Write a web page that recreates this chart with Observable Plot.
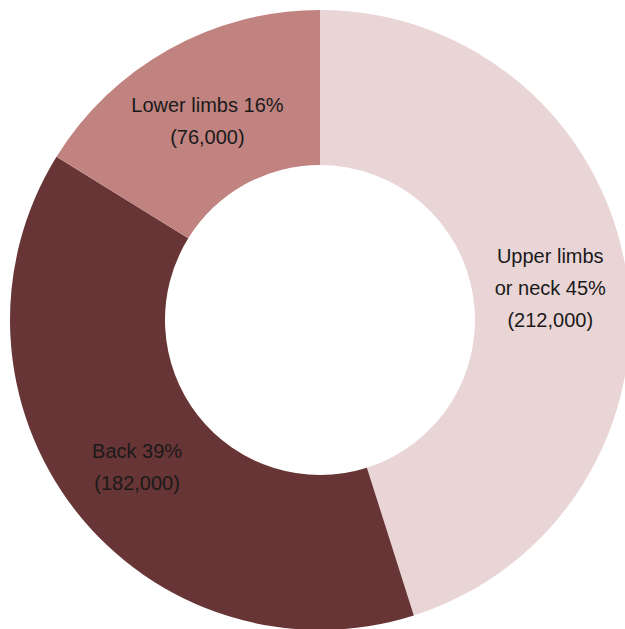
<!DOCTYPE html>
<html><head><meta charset="utf-8">
<script src="https://cdn.jsdelivr.net/npm/d3@7"></script>
<script src="https://cdn.jsdelivr.net/npm/@observablehq/plot@0.6"></script>
<style>body{margin:0;background:#fff}</style>
</head><body><div id="chart"></div>
<script>
const categories = ["Upper limbs or neck", "Back", "Lower limbs"];
const labelLines = ["Upper limbs\nor neck", "Back", "Lower limbs"];
const percents = [45, 39, 16];
const values = [212000, 182000, 76000];
const colors = ["#e9d5d6", "#683536", "#c08380"];

const W = 625, H = 629, cx = 320, cy = 320, rOuter = 310, rInner = 155;
const data = categories.map((c, i) => ({category: c, line: labelLines[i], pct: percents[i], value: values[i], color: colors[i]}));
const arcs = d3.pie().sort(null).value(d => d.value)(data);
const arcGen = d3.arc().innerRadius(rInner).outerRadius(rOuter);
const rMid = (rInner + rOuter) / 2;
const labelArc = d3.arc().innerRadius(rMid).outerRadius(rMid);
const fmt = d3.format(",");
const table = arcs.map(a => {
  const [x, y] = labelArc.centroid(a);
  return {...a.data, x, y, text: `${a.data.line} ${a.data.pct}%\n(${fmt(a.data.value)})`};
});

function donut(index, scales) {
  const sx = scales && scales.x ? scales.x : (v => v + cx);
  const sy = scales && scales.y ? scales.y : (v => v + cy);
  const g = d3.create("svg:g").attr("transform", `translate(${sx(0)},${sy(0)})`);
  g.selectAll("path").data(arcs).join("path")
    .attr("d", arcGen)
    .attr("fill", d => d.data.color);
  return g.node();
}

const chart = Plot.plot({
  width: W, height: H,
  margin: 0,
  style: {fontFamily: "'Liberation Sans', Arial, sans-serif", background: "#fff"},
  x: {domain: [-cx, W - cx], range: [0, W], axis: null},
  y: {domain: [-cy, H - cy], range: [0, H], axis: null},
  marks: [
    donut,
    Plot.text(table, {x: "x", y: "y", text: "text", fill: "#1a1a1a", fontSize: 20, lineHeight: 1.6})
  ]
});
document.getElementById("chart").append(chart);
</script>
</body></html>
